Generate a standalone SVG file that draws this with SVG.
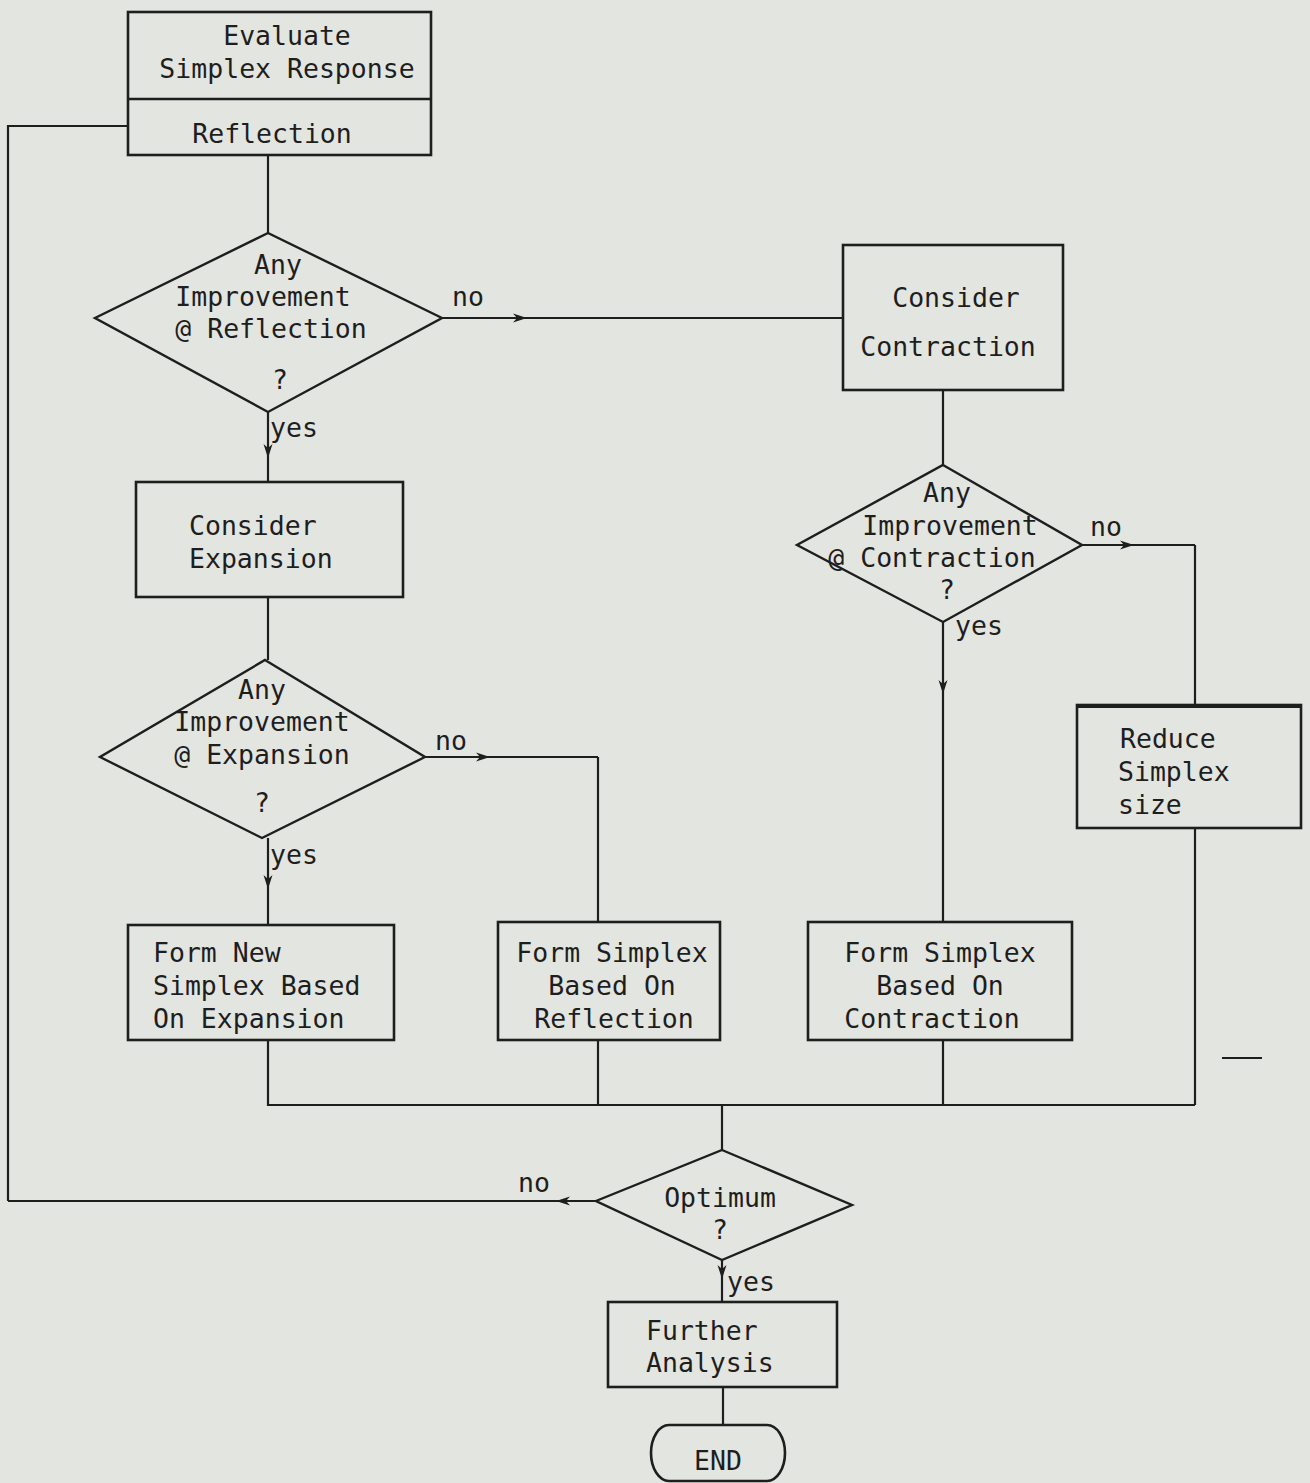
<svg xmlns="http://www.w3.org/2000/svg" width="1310" height="1483" viewBox="0 0 1310 1483">
  <style>
    .box { fill: none; stroke: #1e1e1e; stroke-width: 2.6; }
    .dec { fill: none; stroke: #1e1e1e; stroke-width: 2.4; stroke-linejoin: miter; }
    .wire { fill: none; stroke: #1e1e1e; stroke-width: 2.2; }
    text { font-family: "DejaVu Sans Mono", "Liberation Mono", monospace; font-size: 26.5px; fill: #1e1e1e; }
    .c { text-anchor: middle; }
  </style>
  <defs>
    <marker id="arrow" viewBox="-16 -7 18 14" markerWidth="18" markerHeight="14" refX="0" refY="0" markerUnits="userSpaceOnUse" orient="auto">
      <path d="M-14,-4.5 L0,0 L-14,4.5 L-10,0 Z" fill="#1e1e1e"/>
    </marker>
  </defs>

  <rect x="0" y="0" width="1310" height="1483" fill="#e3e5e0"/>

  <!-- connectors: each arrowed segment carries a single mid vertex for its arrowhead -->
  <g id="connectors">
    <path class="wire" d="M268,155 L268,233"/>
    <path class="wire" d="M442,318 L527,318 L843,318" marker-mid="url(#arrow)"/>
    <path class="wire" d="M268,412 L268,458 L268,482" marker-mid="url(#arrow)"/>
    <path class="wire" d="M943,390 L943,465"/>
    <path class="wire" d="M1082,545 L1134,545 L1195,545" marker-mid="url(#arrow)"/>
    <path class="wire" d="M1195,545 L1195,705"/>
    <path class="wire" d="M943,622 L943,694 L943,922" marker-mid="url(#arrow)"/>
    <path class="wire" d="M268,597 L268,660"/>
    <path class="wire" d="M425,757 L490,757 L598,757" marker-mid="url(#arrow)"/>
    <path class="wire" d="M598,757 L598,922"/>
    <path class="wire" d="M268,838 L268,889 L268,925" marker-mid="url(#arrow)"/>
    <path class="wire" d="M1195,828 L1195,1105"/>
    <path class="wire" d="M268,1040 L268,1105 L1195,1105"/>
    <path class="wire" d="M598,1040 L598,1105"/>
    <path class="wire" d="M943,1040 L943,1105"/>
    <path class="wire" d="M722,1105 L722,1150"/>
    <path class="wire" d="M596,1201 L556,1201 L8,1201" marker-mid="url(#arrow)"/>
    <path class="wire" d="M8,1201 L8,126 L128,126"/>
    <path class="wire" d="M722,1260 L722,1279 L722,1302" marker-mid="url(#arrow)"/>
    <path class="wire" d="M723,1387 L723,1425"/>
    <text x="452" y="306">no</text>
    <text x="270" y="437">yes</text>
    <text x="1090" y="536">no</text>
    <text x="955" y="635">yes</text>
    <text x="435" y="750">no</text>
    <text x="270" y="864">yes</text>
    <text x="518" y="1192">no</text>
    <text x="727" y="1291">yes</text>
  </g>

  <g id="evaluate">
    <rect class="box" x="128" y="12" width="303" height="143"/>
    <line class="box" x1="128" y1="99" x2="431" y2="99"/>
    <text class="c" x="287" y="45">Evaluate</text>
    <text class="c" x="287" y="78">Simplex Response</text>
    <text class="c" x="272" y="143">Reflection</text>
  </g>

  <g id="improve-reflection">
    <polygon class="dec" points="268,233 442,318 268,412 95,318"/>
    <text class="c" x="278" y="274">Any</text>
    <text class="c" x="263" y="306">Improvement</text>
    <text class="c" x="271" y="338">@ Reflection</text>
    <text class="c" x="280" y="389">?</text>
  </g>

  <g id="consider-contraction">
    <rect class="box" x="843" y="245" width="220" height="145"/>
    <text class="c" x="956" y="307">Consider</text>
    <text class="c" x="948" y="356">Contraction</text>
  </g>

  <g id="improve-contraction">
    <polygon class="dec" points="943,465 1082,545 943,622 797,545"/>
    <text class="c" x="947" y="502">Any</text>
    <text class="c" x="950" y="535">Improvement</text>
    <text class="c" x="932" y="567">@ Contraction</text>
    <text class="c" x="947" y="599">?</text>
  </g>

  <g id="consider-expansion">
    <rect class="box" x="136" y="482" width="267" height="115"/>
    <text x="189" y="535">Consider</text>
    <text x="189" y="568">Expansion</text>
  </g>

  <g id="improve-expansion">
    <polygon class="dec" points="265,660 425,757 262,838 100,757"/>
    <text class="c" x="262" y="699">Any</text>
    <text class="c" x="262" y="731">Improvement</text>
    <text class="c" x="262" y="764">@ Expansion</text>
    <text class="c" x="262" y="812">?</text>
  </g>

  <g id="reduce-simplex">
    <rect class="box" x="1077" y="705" width="224" height="123"/>
    <line x1="1077" y1="706" x2="1301" y2="706" stroke="#1e1e1e" stroke-width="4"/>
    <text x="1120" y="748">Reduce</text>
    <text x="1118" y="781">Simplex</text>
    <text x="1118" y="814">size</text>
  </g>

  <g id="form-expansion">
    <rect class="box" x="128" y="925" width="266" height="115"/>
    <text x="153" y="962">Form New</text>
    <text x="153" y="995">Simplex Based</text>
    <text x="153" y="1028">On Expansion</text>
  </g>

  <g id="form-reflection">
    <rect class="box" x="498" y="922" width="222" height="118"/>
    <text class="c" x="612" y="962">Form Simplex</text>
    <text class="c" x="612" y="995">Based On</text>
    <text class="c" x="614" y="1028">Reflection</text>
  </g>

  <g id="form-contraction">
    <rect class="box" x="808" y="922" width="264" height="118"/>
    <text class="c" x="940" y="962">Form Simplex</text>
    <text class="c" x="940" y="995">Based On</text>
    <text class="c" x="932" y="1028">Contraction</text>
  </g>

  <g id="optimum">
    <polygon class="dec" points="722,1150 852,1205 722,1260 596,1201"/>
    <text class="c" x="720" y="1207">Optimum</text>
    <text class="c" x="720" y="1239">?</text>
  </g>

  <g id="further-analysis">
    <rect class="box" x="608" y="1302" width="229" height="85"/>
    <text x="646" y="1340">Further</text>
    <text x="646" y="1372">Analysis</text>
  </g>

  <g id="end">
    <rect class="box" x="651" y="1425" width="134" height="56" rx="18" ry="28"/>
    <text class="c" x="718" y="1470">END</text>
  </g>

  <!-- small pen mark -->
  <line x1="1222" y1="1058" x2="1262" y2="1058" stroke="#1e1e1e" stroke-width="2"/>
</svg>
